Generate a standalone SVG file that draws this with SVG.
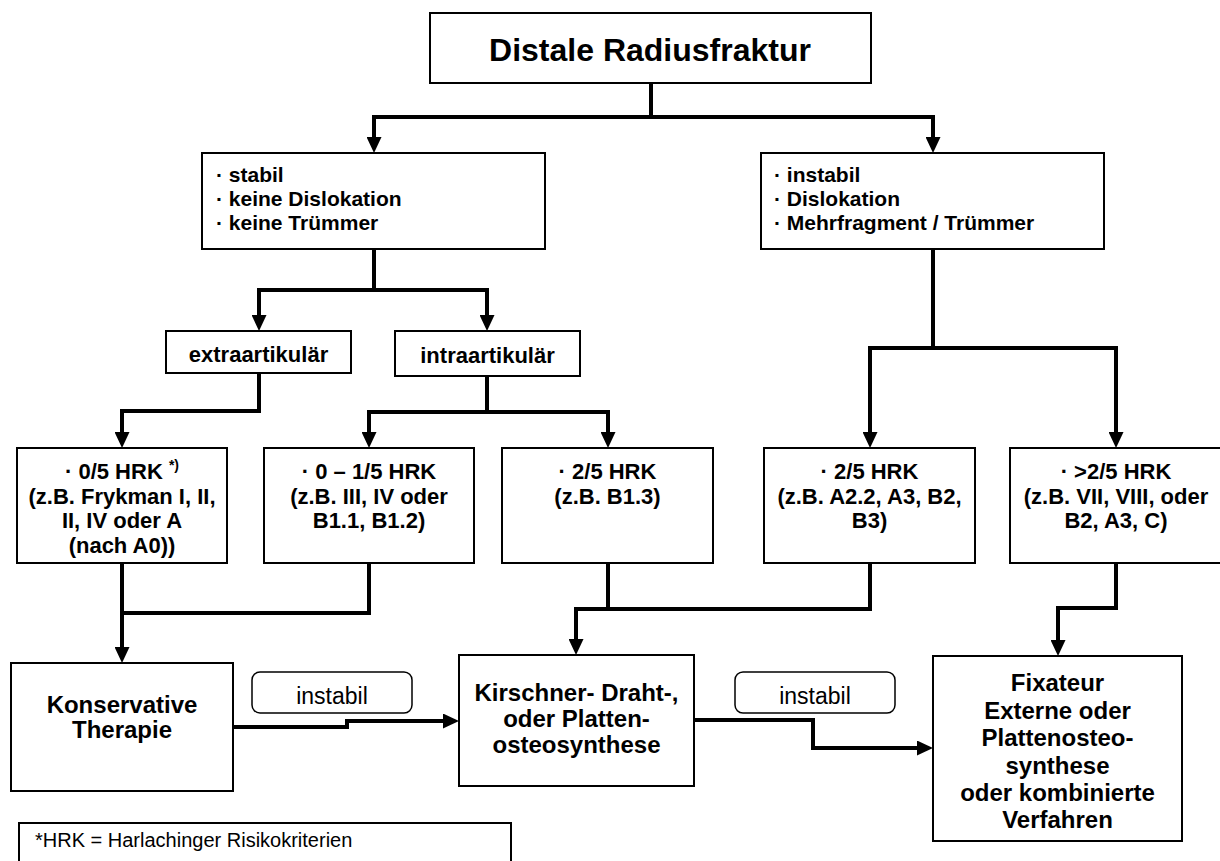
<svg xmlns="http://www.w3.org/2000/svg" width="1220" height="861" viewBox="0 0 1220 861">
  <style>
    .box { fill: #ffffff; stroke: #000000; stroke-width: 2; }
    .tag { fill: #ffffff; stroke: #000000; stroke-width: 1.5; }
    .wire { fill: none; stroke: #000000; stroke-width: 4; stroke-linejoin: miter; }
    .arrow { marker-end: url(#head); }
    text { font-family: "Liberation Sans", Arial, sans-serif; fill: #000000; }
    .b { font-weight: bold; }
    .mid { text-anchor: middle; }
    .f32 { font-size: 32px; }
    .f24 { font-size: 24px; }
    .f22 { font-size: 22px; }
    .f21 { font-size: 21px; }
    .f20 { font-size: 20px; }
    .r23 { font-size: 23px; }
  </style>
  <defs>
    <marker id="head" markerUnits="userSpaceOnUse" markerWidth="16" markerHeight="15" refX="4" refY="7.5" orient="auto">
      <path d="M0,0 L16,7.5 L0,15 Z" fill="#000000"/>
    </marker>
  </defs>

  <rect width="1220" height="861" fill="#ffffff"/>

  <!-- connectors -->
  <g id="connectors">
    <path class="wire" d="M651,83 V117"/>
    <path class="wire arrow" d="M651,117 H374 V141"/>
    <path class="wire arrow" d="M651,117 H933 V141"/>

    <path class="wire" d="M374,249 V290"/>
    <path class="wire arrow" d="M374,290 H259 V319"/>
    <path class="wire arrow" d="M374,290 H487 V319"/>

    <path class="wire arrow" d="M259,373 V411 H122 V436"/>

    <path class="wire" d="M487,376 V412"/>
    <path class="wire arrow" d="M487,412 H369 V436"/>
    <path class="wire arrow" d="M487,412 H608 V436"/>

    <path class="wire" d="M933,249 V348"/>
    <path class="wire arrow" d="M933,348 H870 V436"/>
    <path class="wire arrow" d="M933,348 H1116 V436"/>

    <path class="wire arrow" d="M122,563 V651"/>
    <path class="wire" d="M369,563 V613 H122"/>

    <path class="wire" d="M608,563 V609"/>
    <path class="wire arrow" d="M870,563 V609 H576 V643"/>

    <path class="wire arrow" d="M1116,563 V608 H1058 V644"/>

    <path class="wire arrow" d="M233,727 H347 V721 H447"/>
    <path class="wire arrow" d="M694,720 H813 V748 H921"/>
  </g>

  <!-- top -->
  <g id="n-distale">
    <rect class="box" x="430" y="13" width="441" height="70"/>
    <text class="b f32 mid" x="650" y="61">Distale Radiusfraktur</text>
  </g>

  <g id="n-stabil">
    <rect class="box" x="202" y="153" width="343" height="96"/>
    <text class="b f21" x="216" y="182">· stabil</text>
    <text class="b f21" x="216" y="206">· keine Dislokation</text>
    <text class="b f21" x="216" y="230">· keine Trümmer</text>
  </g>

  <g id="n-instabil">
    <rect class="box" x="761" y="153" width="343" height="96"/>
    <text class="b f21" x="774" y="182">· instabil</text>
    <text class="b f21" x="774" y="206">· Dislokation</text>
    <text class="b f21" x="774" y="230">· Mehrfragment / Trümmer</text>
  </g>

  <g id="n-extra">
    <rect class="box" x="166" y="331" width="185" height="42"/>
    <text class="b f22 mid" x="258.5" y="362">extraartikulär</text>
  </g>

  <g id="n-intra">
    <rect class="box" x="395" y="331" width="185" height="45"/>
    <text class="b f22 mid" x="487.5" y="363">intraartikulär</text>
  </g>

  <!-- HRK level -->
  <g id="n-hrk0">
    <rect class="box" x="17" y="448" width="210" height="115"/>
    <text class="b f22 mid" x="122" y="479">· 0/5 HRK <tspan font-size="14" dy="-9">*)</tspan></text>
    <text class="b f22 mid" x="122" y="504">(z.B. Frykman I, II,</text>
    <text class="b f22 mid" x="122" y="528">II, IV oder A</text>
    <text class="b f22 mid" x="122" y="553">(nach A0))</text>
  </g>

  <g id="n-hrk01">
    <rect class="box" x="264" y="448" width="210" height="115"/>
    <text class="b f22 mid" x="369" y="479">· 0 – 1/5 HRK</text>
    <text class="b f22 mid" x="369" y="504">(z.B. III, IV oder</text>
    <text class="b f22 mid" x="369" y="528">B1.1, B1.2)</text>
  </g>

  <g id="n-hrk2a">
    <rect class="box" x="502" y="448" width="211" height="115"/>
    <text class="b f22 mid" x="607.5" y="479">· 2/5 HRK</text>
    <text class="b f22 mid" x="607.5" y="504">(z.B. B1.3)</text>
  </g>

  <g id="n-hrk2b">
    <rect class="box" x="764" y="448" width="211" height="115"/>
    <text class="b f22 mid" x="869.5" y="479">· 2/5 HRK</text>
    <text class="b f22 mid" x="869.5" y="504">(z.B. A2.2, A3, B2,</text>
    <text class="b f22 mid" x="869.5" y="528">B3)</text>
  </g>

  <g id="n-hrk3">
    <rect class="box" x="1010" y="448" width="212" height="115"/>
    <text class="b f22 mid" x="1116" y="479">· &gt;2/5 HRK</text>
    <text class="b f22 mid" x="1116" y="504">(z.B. VII, VIII, oder</text>
    <text class="b f22 mid" x="1116" y="528">B2, A3, C)</text>
  </g>

  <!-- therapy level -->
  <g id="n-konservativ">
    <rect class="box" x="11" y="663" width="222" height="128"/>
    <text class="b f24 mid" x="122" y="713">Konservative</text>
    <text class="b f24 mid" x="122" y="738">Therapie</text>
  </g>

  <g id="n-kirschner">
    <rect class="box" x="459" y="655" width="235" height="131"/>
    <text class="b f24 mid" x="576.5" y="701">Kirschner- Draht-,</text>
    <text class="b f24 mid" x="576.5" y="727">oder Platten-</text>
    <text class="b f24 mid" x="576.5" y="753">osteosynthese</text>
  </g>

  <g id="n-fixateur">
    <rect class="box" x="933" y="656" width="249" height="185"/>
    <text class="b f24 mid" x="1057.5" y="691">Fixateur</text>
    <text class="b f24 mid" x="1057.5" y="718.5">Externe oder</text>
    <text class="b f24 mid" x="1057.5" y="746">Plattenosteo-</text>
    <text class="b f24 mid" x="1057.5" y="773.5">synthese</text>
    <text class="b f24 mid" x="1057.5" y="801">oder kombinierte</text>
    <text class="b f24 mid" x="1057.5" y="828">Verfahren</text>
  </g>

  <!-- edge labels -->
  <g id="lbl-instabil-1">
    <rect class="tag" x="252" y="672" width="160" height="41" rx="8"/>
    <text class="r23 mid" x="332" y="704">instabil</text>
  </g>
  <g id="lbl-instabil-2">
    <rect class="tag" x="735" y="672" width="160" height="41" rx="8"/>
    <text class="r23 mid" x="815" y="704">instabil</text>
  </g>

  <!-- footnote -->
  <g id="n-footnote">
    <rect class="box" x="19" y="823" width="492" height="50"/>
    <text class="f20" x="35" y="847">*HRK = Harlachinger Risikokriterien</text>
  </g>
</svg>
